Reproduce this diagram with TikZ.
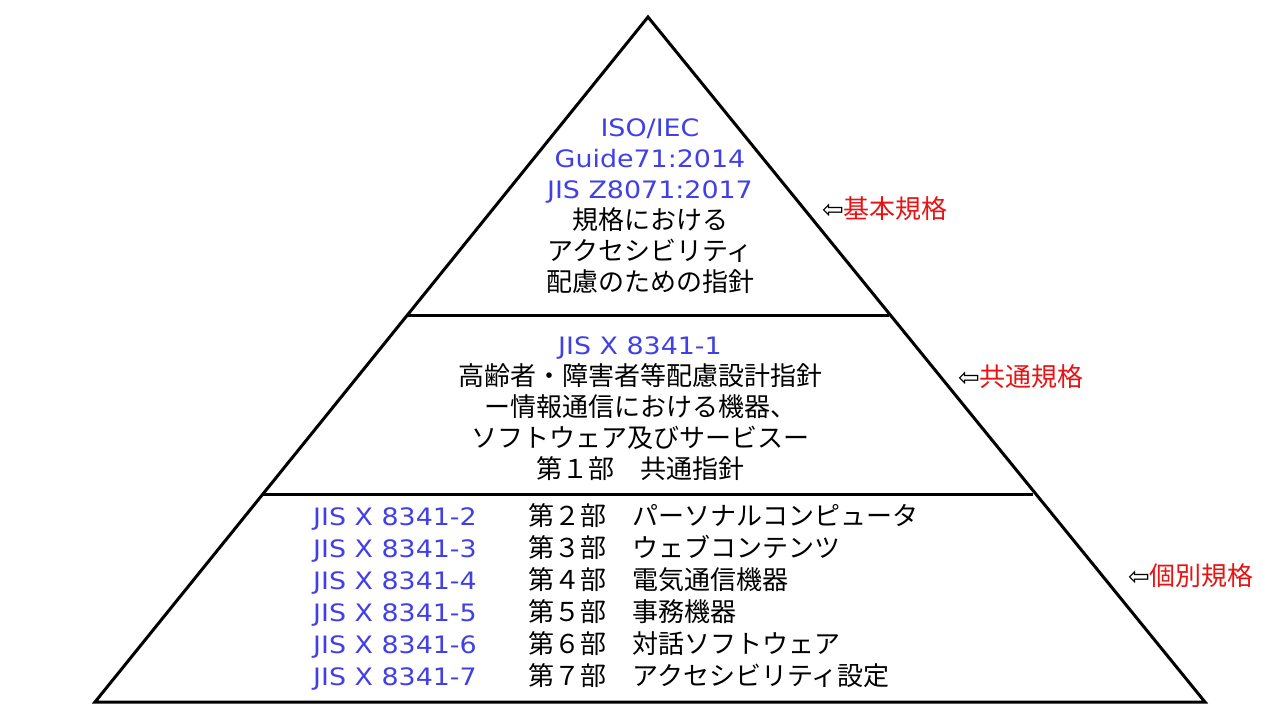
\documentclass[tikz,border=0pt]{standalone}
\usepackage{fontspec}
\setmainfont{Noto Sans CJK JP}
\newfontfamily\arrowfont{DejaVu Sans}
\newfontfamily\latinfont[FakeStretch=1.12]{DejaVu Sans}
\usetikzlibrary{positioning,calc}
\definecolor{jisblue}{RGB}{64,64,230}
\definecolor{jisred}{RGB}{230,20,20}
\tikzset{
  tier/.style={align=center,inner sep=0pt,font=\fontsize{26}{31}\selectfont},
  tierleft/.style={align=left,inner sep=0pt,font=\fontsize{26}{32}\selectfont},
  levellabel/.style={anchor=west,inner sep=0pt,text=jisred,font=\fontsize{26}{31}\selectfont},
  edge/.style={line width=3pt}
}
\newcommand{\blu}[1]{\textcolor{jisblue}{{\latinfont\fontsize{24}{31}\selectfont #1}}}
\newcommand{\arr}{{\arrowfont\textcolor{black}{⇦}}}
\begin{document}
\begin{tikzpicture}[x=1pt,y=-1pt]
    \useasboundingbox (0,0) rectangle (1280,720);
    \fill[white] (0,0) rectangle (1280,720);

    %pyramid outline
    \coordinate (apex) at (648,17);
    \coordinate (bl) at (95,702);
    \coordinate (br) at (1205,702);
    \draw[edge] (apex) -- (bl) -- (br) -- cycle;
    %tier dividers
    \coordinate (ul) at (407,315);
    \coordinate (ur) at (889,315);
    \coordinate (ll) at (263,494);
    \coordinate (lr) at (1033,494);
    \draw[edge] (ul) -- (ur);
    \draw[edge] (ll) -- (lr);

    %top tier
    \node[tier] (basic) at (650,206) {\blu{ISO/IEC}\\\blu{Guide71:2014}\\\blu{JIS Z8071:2017}\\規格における\\アクセシビリティ\\配慮のための指針};
    %middle tier
    \node[tier] (common) at (640,409) {\blu{JIS X 8341-1}\\高齢者・障害者等配慮設計指針\\ー情報通信における機器、\\ソフトウェア及びサービスー\\第１部　共通指針};
    %bottom tier
    \node[tierleft,anchor=west] (individual) at (313,597) {\blu{JIS X 8341-2}\hspace{52pt}第２部　パーソナルコンピュータ\\\blu{JIS X 8341-3}\hspace{52pt}第３部　ウェブコンテンツ\\\blu{JIS X 8341-4}\hspace{52pt}第４部　電気通信機器\\\blu{JIS X 8341-5}\hspace{52pt}第５部　事務機器\\\blu{JIS X 8341-6}\hspace{52pt}第６部　対話ソフトウェア\\\blu{JIS X 8341-7}\hspace{52pt}第７部　アクセシビリティ設定};

    %level labels
    \node[levellabel] (lbasic) at (822,209) {\arr 基本規格};
    \node[levellabel] (lcommon) at (958,377) {\arr 共通規格};
    \node[levellabel] (lindiv) at (1128,576) {\arr 個別規格};
\end{tikzpicture}
\end{document}
